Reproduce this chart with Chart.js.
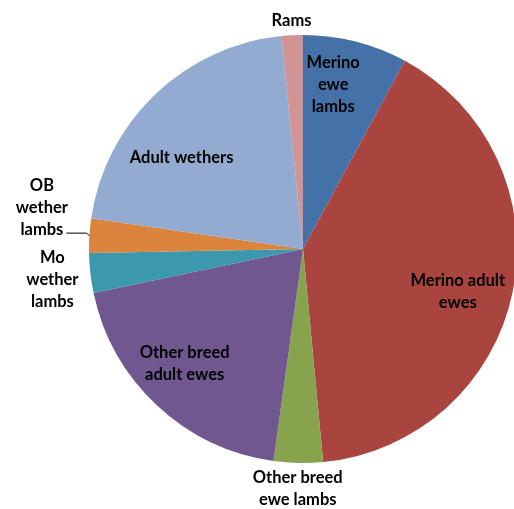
<!DOCTYPE html>
<html>
<head>
<meta charset="utf-8">
<title>Sheep flock composition</title>
<script src="https://cdn.jsdelivr.net/npm/chart.js@4"></script>
<style>
  html, body { margin: 0; padding: 0; background: #fff; }
  #wrap { position: relative; width: 514px; height: 509px; overflow: hidden; }
  #pie { position: absolute; left: 0; top: 0; }
</style>
</head>
<body>
<div id="wrap"><canvas id="pie" width="606" height="509"></canvas></div>
<script>
// flock share by class (%), clockwise from 12 o'clock
var categories = ['Merino ewe lambs', 'Merino adult ewes', 'Other breed ewe lambs', 'Other breed adult ewes',
                  'Mo wether lambs', 'OB wether lambs', 'Adult wethers', 'Rams'];
var shares = [7.9, 40.6, 3.7, 19.5, 3.0, 2.6, 21.1, 1.6];
var colors = ['#4471a8', '#a9443f', '#87a44c', '#71578f', '#3b98ae', '#db843d', '#94abd1', '#d19393'];

// how each name is broken and where it sits relative to its slice
var labelLines = [
  ['Merino', 'ewe', 'lambs'],
  ['Merino adult', 'ewes'],
  ['Other breed', 'ewe lambs'],
  ['Other breed', 'adult ewes'],
  ['Mo', 'wether', 'lambs'],
  ['OB', 'wether', 'lambs'],
  ['Adult wethers'],
  ['Rams']
];
var labelRadius = [0.78, 0.75, 1.12, 0.77, 1.18, 1.235, 0.71, 1.07];
var labelTurn = [-3.8, 3.8, 0, 2.9, -0.6, 5.3, -9.3, 0];
var leaderLine = [false, false, false, false, false, true, false, false];

var sliceLabels = {
  id: 'sliceLabels',
  afterDraw: function (chart) {
    var ctx = chart.ctx;
    var arcs = chart.getDatasetMeta(0).data;
    var lineH = 22;
    ctx.save();
    ctx.font = 'bold 16.5px Lato, "Open Sans", sans-serif';
    ctx.fillStyle = '#000';
    ctx.textAlign = 'center';
    ctx.textBaseline = 'middle';
    arcs.forEach(function (arc, i) {
      var p = arc.getProps(['x', 'y', 'startAngle', 'endAngle', 'outerRadius'], true);
      var mid = (p.startAngle + p.endAngle) / 2;
      var a = mid + labelTurn[i] * Math.PI / 180;
      var r = p.outerRadius * labelRadius[i];
      var cx = p.x + Math.cos(a) * r;
      var cy = p.y + Math.sin(a) * r;
      var lines = labelLines[i];
      var top = cy - (lines.length - 1) * lineH / 2;
      lines.forEach(function (t, k) {
        ctx.fillText(t, cx, top + k * lineH);
      });
      if (leaderLine[i]) {
        var last = lines[lines.length - 1];
        var lx = cx + ctx.measureText(last).width / 2 + 3;
        var ly = top + (lines.length - 1) * lineH + 3;
        var ex = p.x + Math.cos(mid) * p.outerRadius;
        var ey = p.y + Math.sin(mid) * p.outerRadius;
        ctx.strokeStyle = '#000';
        ctx.lineWidth = 1;
        ctx.beginPath();
        ctx.moveTo(lx, ly);
        ctx.lineTo(ex - 3, ly);
        ctx.lineTo(ex, ey);
        ctx.stroke();
      }
    });
    ctx.restore();
  }
};

new Chart(document.getElementById('pie'), {
  type: 'pie',
  data: {
    labels: categories,
    datasets: [{
      data: shares,
      backgroundColor: colors,
      borderWidth: 0,
      hoverOffset: 0,
      offset: 0
    }]
  },
  options: {
    responsive: false,
    animation: false,
    layout: { padding: { top: 35, bottom: 46, left: 0, right: 0 } },
    plugins: { legend: { display: false }, tooltip: { enabled: false } },
    events: []
  },
  plugins: [sliceLabels]
});
</script>
</body>
</html>
